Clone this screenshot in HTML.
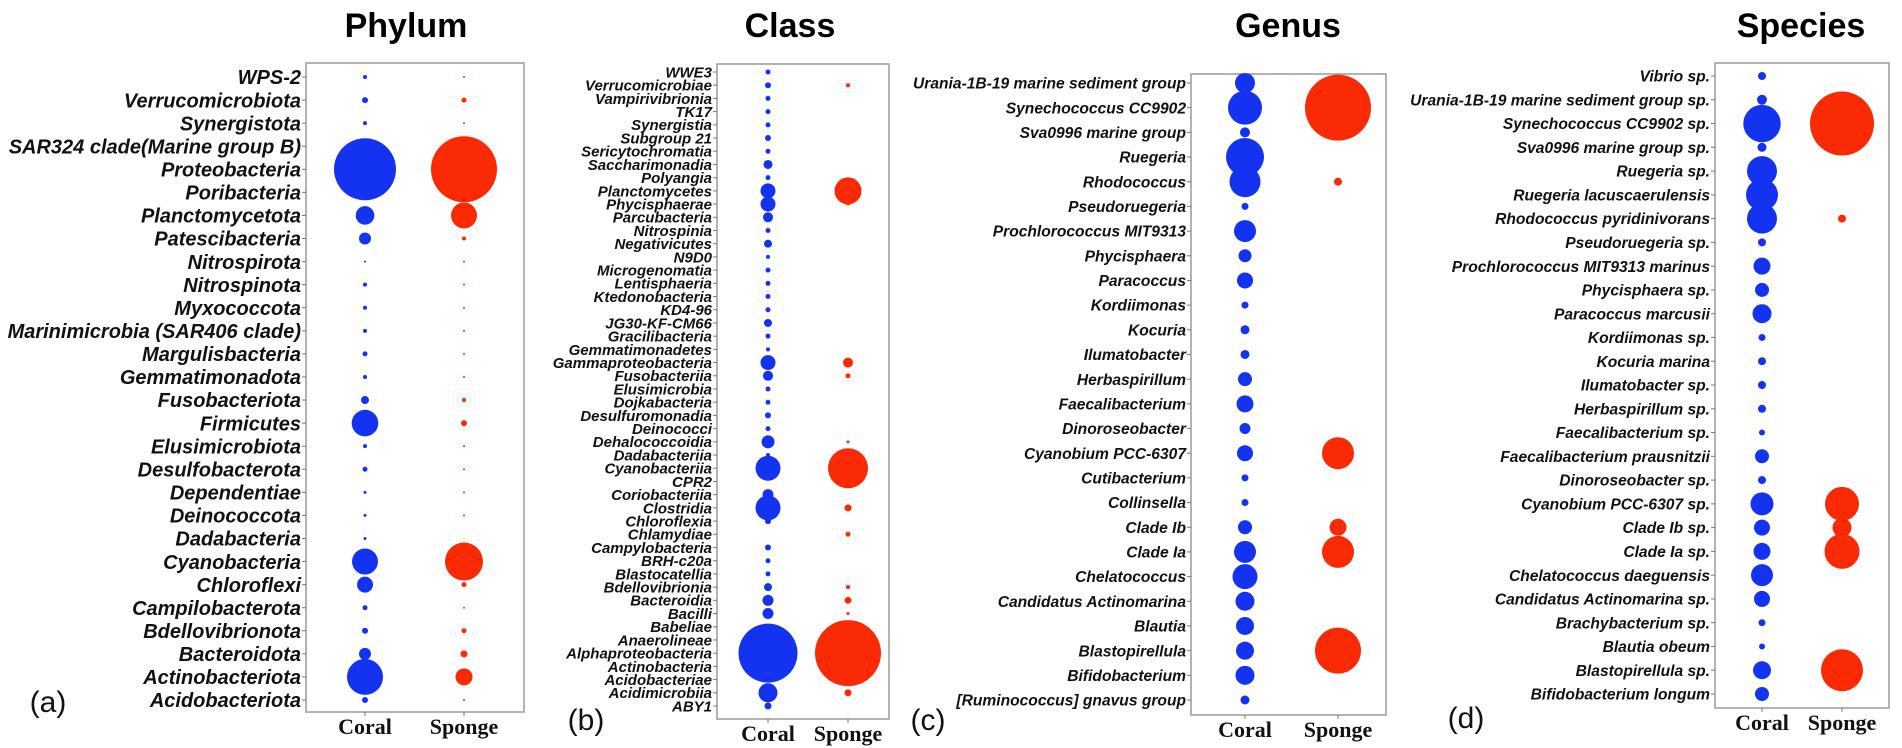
<!DOCTYPE html>
<html><head><meta charset="utf-8"><style>
body{margin:0;background:#fff;}
svg{display:block;}
.lab{font-family:"Liberation Sans",sans-serif;font-weight:bold;font-style:italic;fill:#111;}
.ttl{font-family:"Liberation Sans",sans-serif;font-weight:bold;font-size:34px;fill:#000;}
.xl{font-family:"Liberation Serif",serif;font-weight:bold;font-size:22px;fill:#111;}
.pl{font-family:"Liberation Sans",sans-serif;font-size:30px;fill:#111;}
</style></head><body>
<svg id="fig" width="1902" height="748" viewBox="0 0 1902 748"></svg>
<script>
// ---- Data ----
const phylumCats = ["WPS-2","Verrucomicrobiota","Synergistota","SAR324 clade(Marine group B)","Proteobacteria","Poribacteria","Planctomycetota","Patescibacteria","Nitrospirota","Nitrospinota","Myxococcota","Marinimicrobia (SAR406 clade)","Margulisbacteria","Gemmatimonadota","Fusobacteriota","Firmicutes","Elusimicrobiota","Desulfobacterota","Dependentiae","Deinococcota","Dadabacteria","Cyanobacteria","Chloroflexi","Campilobacterota","Bdellovibrionota","Bacteroidota","Actinobacteriota","Acidobacteriota"];
const phylumCoral = [2,3,2,0,31,0,9.3,6,1,2,2,2,2.5,2,4,13.3,2,2.5,1.5,1.5,1.5,13,8,2.5,3,6,18,3];
const phylumSponge = [1,2.5,1,0,33,0,13,2,1,1,1,1,1,1,2,3,1,1,1,1,0.5,19,2.5,1,2.5,3.5,8.5,1];

const classCats = ["WWE3","Verrucomicrobiae","Vampirivibrionia","TK17","Synergistia","Subgroup 21","Sericytochromatia","Saccharimonadia","Polyangia","Planctomycetes","Phycisphaerae","Parcubacteria","Nitrospinia","Negativicutes","N9D0","Microgenomatia","Lentisphaeria","Ktedonobacteria","KD4-96","JG30-KF-CM66","Gracilibacteria","Gemmatimonadetes","Gammaproteobacteria","Fusobacteriia","Elusimicrobia","Dojkabacteria","Desulfuromonadia","Deinococci","Dehalococcoidia","Dadabacteriia","Cyanobacteriia","CPR2","Coriobacteriia","Clostridia","Chloroflexia","Chlamydiae","Campylobacteria","BRH-c20a","Blastocatellia","Bdellovibrionia","Bacteroidia","Bacilli","Babeliae","Anaerolineae","Alphaproteobacteria","Actinobacteria","Acidobacteriae","Acidimicrobiia","ABY1"];
const classCoral = [2.5,3,2.5,2.5,2.5,3,2.5,4.5,2.5,7.5,7.5,5,2.5,4,2,2.5,2.5,2.5,2.5,4,2.5,2,7.5,5,2.5,2.5,3,2.5,6.5,2,12.5,0,5.5,12.5,3,0,3,2.5,2.5,4,5.5,5.5,0,0,29.5,0,0,9.5,3.5];
const classSponge = [0,2,0,0,0,0,0,0,0,13.5,1.5,0,0,0,0,0,0,0,0,0,0,0,5,2.5,0,0,0,0,1.5,0,20,0,0,3.5,0,2.5,0,0,0,2,3.5,1.5,0,0,33,0,0,3.5,0];

const genusCats = ["Urania-1B-19 marine sediment group","Synechococcus CC9902","Sva0996 marine group","Ruegeria","Rhodococcus","Pseudoruegeria","Prochlorococcus MIT9313","Phycisphaera","Paracoccus","Kordiimonas","Kocuria","Ilumatobacter","Herbaspirillum","Faecalibacterium","Dinoroseobacter","Cyanobium PCC-6307","Cutibacterium","Collinsella","Clade Ib","Clade Ia","Chelatococcus","Candidatus Actinomarina","Blautia","Blastopirellula","Bifidobacterium","[Ruminococcus] gnavus group"];
const genusCoral = [10,17,5,19,15.5,3.5,11,6.5,8,3.5,4.5,4.5,7,8.5,5.5,8,3.5,3.5,7,11,12.5,9.5,9,9,9.5,4.5];
const genusSponge = [0,33,0,0,4,0,0,0,0,0,0,0,0,0,0,16,0,0,8.5,16,0,0,0,23,0,0];

const speciesCats = ["Vibrio sp.","Urania-1B-19 marine sediment group sp.","Synechococcus CC9902 sp.","Sva0996 marine group sp.","Ruegeria sp.","Ruegeria lacuscaerulensis","Rhodococcus pyridinivorans","Pseudoruegeria sp.","Prochlorococcus MIT9313 marinus","Phycisphaera sp.","Paracoccus marcusii","Kordiimonas sp.","Kocuria marina","Ilumatobacter sp.","Herbaspirillum sp.","Faecalibacterium sp.","Faecalibacterium prausnitzii","Dinoroseobacter sp.","Cyanobium PCC-6307 sp.","Clade Ib sp.","Clade Ia sp.","Chelatococcus daeguensis","Candidatus Actinomarina sp.","Brachybacterium sp.","Blautia obeum","Blastopirellula sp.","Bifidobacterium longum"];
const speciesCoral = [4,5,18.7,4.5,15,16,15,4,8.5,7,9.5,3.5,4,4,4,3,7,4,11.5,8,8.5,11,8,3.5,3,9,7];
const speciesSponge = [0,0,32,0,0,0,4,0,0,0,0,0,0,0,0,0,0,0,17,9.5,17.5,0,0,0,0,21,0];

// ---- Layout ----
const NS="http://www.w3.org/2000/svg";
const svg=document.getElementById('fig');
function mk(tag,attrs,parent){const e=document.createElementNS(NS,tag);for(const k in attrs)e.setAttribute(k,attrs[k]);(parent||svg).appendChild(e);return e;}

const panels=[
 {key:'phylum',title:'Phylum',letter:'(a)',cats:phylumCats,coral:phylumCoral,sponge:phylumSponge,
  box:[306,63,524,712],y0:77,y1:700,cx:365,sx:464,fs:20,lx:48,ly:712,tx:406},
 {key:'class',title:'Class',letter:'(b)',cats:classCats,coral:classCoral,sponge:classSponge,
  box:[717,64,889,719],y0:72,y1:706,cx:768,sx:848,fs:15,lx:586,ly:730,tx:790},
 {key:'genus',title:'Genus',letter:'(c)',cats:genusCats,coral:genusCoral,sponge:genusSponge,
  box:[1191,74,1386,715],y0:83,y1:700,cx:1245,sx:1338,fs:15.6,lx:928,ly:730,tx:1288},
 {key:'species',title:'Species',letter:'(d)',cats:speciesCats,coral:speciesCoral,sponge:speciesSponge,
  box:[1715,63,1889,708],y0:76,y1:694,cx:1762,sx:1842,fs:15.6,lx:1466,ly:728,tx:1801}
];

panels.forEach(p=>{
  const g=mk('g',{});
  
  
  const [L,T,R,B]=p.box;
  const n=p.cats.length;
  const yScale=i=>p.y0+i*(p.y1-p.y0)/(n-1);
  const rScale=v=>v;
  const t=mk('text',{x:p.tx,y:37,'text-anchor':'middle',class:'ttl'},g);
  t.textContent=p.title;
  
  
  const pl=mk('text',{x:p.lx,y:p.ly,'text-anchor':'middle',class:'pl'},g);
  pl.textContent=p.letter;
  
  
  const box=mk('rect',{x:L,y:T,width:R-L,height:B-T,fill:'none',stroke:'#a0a0a0','stroke-width':1.6},g);
  
  
  p.cats.forEach((c,i)=>{
    const y=yScale(i);
    const tk=mk('line',{x1:L-4,x2:L,y1:y,y2:y,stroke:'#777','stroke-width':1},g);
    
    
    const tx=mk('text',{x:L-5,y:y+p.fs*0.36,'text-anchor':'end',class:'lab','font-size':p.fs},g);
    tx.textContent=c;
    
    
  });
  [['Coral',p.cx,p.coral,'#1433f0'],['Sponge',p.sx,p.sponge,'#fa2a05']].forEach(([nm,x,vals,col])=>{
    const tk=mk('line',{x1:x,x2:x,y1:B,y2:B+4,stroke:'#777','stroke-width':1},g);
    
    
    const xl=mk('text',{x:x,y:B+22,'text-anchor':'middle',class:'xl'},g);
    xl.textContent=nm;
    
    
    vals.forEach((v,i)=>{
      if(v<=0)return;
      const c=mk('circle',{cx:x,cy:yScale(i),r:rScale(v),fill:col},g);
      
      
    });
  });
});
</script>
</body></html>
